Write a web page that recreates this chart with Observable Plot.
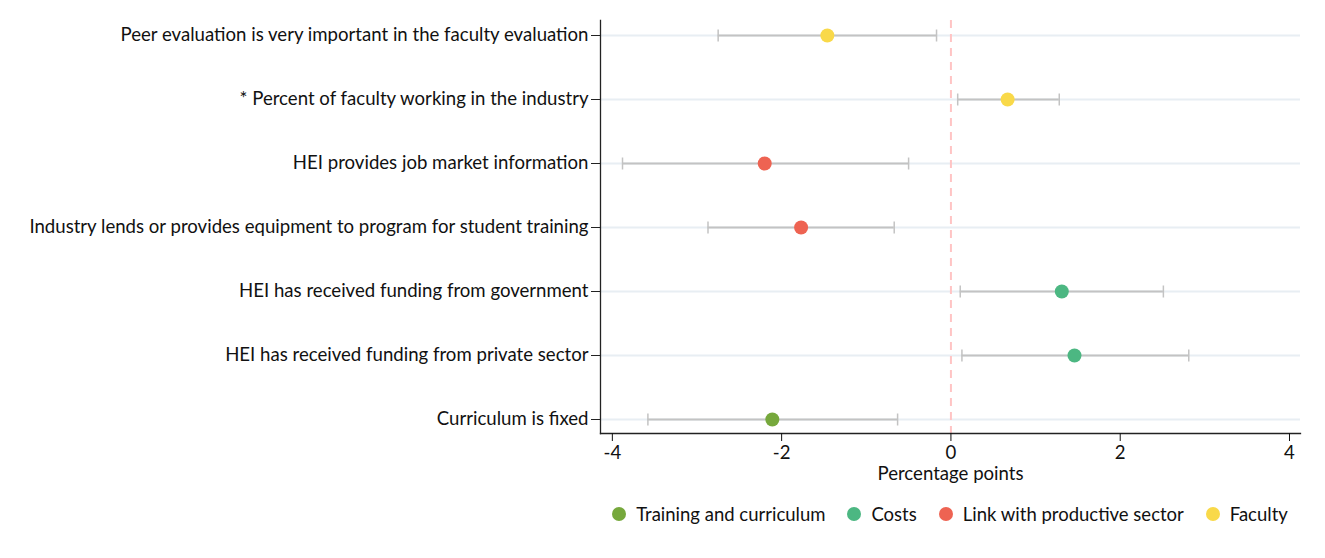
<!DOCTYPE html>
<html><head>
<meta charset="utf-8">
<script src="https://cdn.jsdelivr.net/npm/d3@7"></script>
<script src="https://cdn.jsdelivr.net/npm/@observablehq/plot@0.6"></script>
<style>
body{margin:0;background:#fff;font-family:Lato,sans-serif;}
#legend{position:absolute;left:600px;width:700px;top:503px;display:flex;justify-content:center;gap:22px;font-size:18.5px;color:#111;}
#legend span.item{display:flex;align-items:center;}
#legend span.sw{display:inline-block;width:14px;height:14px;border-radius:50%;margin-right:10px;}
</style>
</head><body>
<div id="chart"></div>
<div id="legend"></div>
<script>
const labels = [
  "Peer evaluation is very important in the faculty evaluation",
  "* Percent of faculty working in the industry",
  "HEI provides job market information",
  "Industry lends or provides equipment to program for student training",
  "HEI has received funding from government",
  "HEI has received funding from private sector",
  "Curriculum is fixed"
];
const estimates = [-1.46, 0.67, -2.20, -1.77, 1.31, 1.46, -2.11];
const lower     = [-2.75, 0.08, -3.88, -2.87, 0.11, 0.13, -3.58];
const upper     = [-0.17, 1.28, -0.50, -0.67, 2.51, 2.81, -0.63];
const groups = ["Faculty","Faculty","Link with productive sector","Link with productive sector","Costs","Costs","Training and curriculum"];
const groupNames = ["Training and curriculum","Costs","Link with productive sector","Faculty"];
const groupColors = ["#76a83c","#4cb782","#ee6352","#f9d949"];
const xTicks = [-4,-2,0,2,4];

const data = labels.map((l,i)=>({label:l, est:estimates[i], lo:lower[i], hi:upper[i], group:groups[i]}));

// vertical bar symbol for error-bar caps
const capSymbol = {draw(ctx, size){ const h = Math.sqrt(size/Math.PI); ctx.moveTo(0,-h); ctx.lineTo(0,h); }};

const plot = Plot.plot({
  width:1325, height:490,
  marginLeft:600, marginRight:25, marginTop:20, marginBottom:57,
  style:{fontFamily:"Lato, sans-serif", fontSize:"18.6px", color:"#111", background:"#fff"},
  x:{domain:[-4.14,4.13]},
  y:{domain:labels, padding:0, insetTop:13, insetBottom:12},
  color:{domain:groupNames, range:groupColors},
  marks:[
    Plot.ruleY(labels, {y:d=>d, stroke:"#e8eef3", strokeWidth:2}),
    Plot.ruleX([0], {stroke:"#ffc4c4", strokeWidth:2, strokeDasharray:"8,6"}),
    Plot.ruleY(data, {y:"label", x1:"lo", x2:"hi", stroke:"#c3c3c3", strokeWidth:2}),
    Plot.dot(data, {x:"lo", y:"label", symbol:capSymbol, r:6, stroke:"#c3c3c3", strokeWidth:1.5, fill:"none"}),
    Plot.dot(data, {x:"hi", y:"label", symbol:capSymbol, r:6, stroke:"#c3c3c3", strokeWidth:1.5, fill:"none"}),
    Plot.dot(data, {x:"est", y:"label", fill:"group", r:7}),
    Plot.frame({anchor:"left", stroke:"#222", strokeWidth:1.3}),
    Plot.frame({anchor:"bottom", stroke:"#222", strokeWidth:1.3}),
    Plot.axisY({tickSize:9, tickPadding:3, label:null, stroke:"#222"}),
    Plot.axisX({ticks:xTicks, tickSize:8, tickPadding:4, tickFormat:d=>d<0?"-"+Math.abs(d):String(d), label:"Percentage points", labelAnchor:"center", labelArrow:"none", labelOffset:46})
  ]
});
document.getElementById("chart").appendChild(plot);

const leg = document.getElementById("legend");
groupNames.forEach((g,i)=>{
  const it = document.createElement("span"); it.className="item";
  const sw = document.createElement("span"); sw.className="sw"; sw.style.background=groupColors[i];
  it.appendChild(sw); it.appendChild(document.createTextNode(g));
  leg.appendChild(it);
});
</script>
</body></html>
